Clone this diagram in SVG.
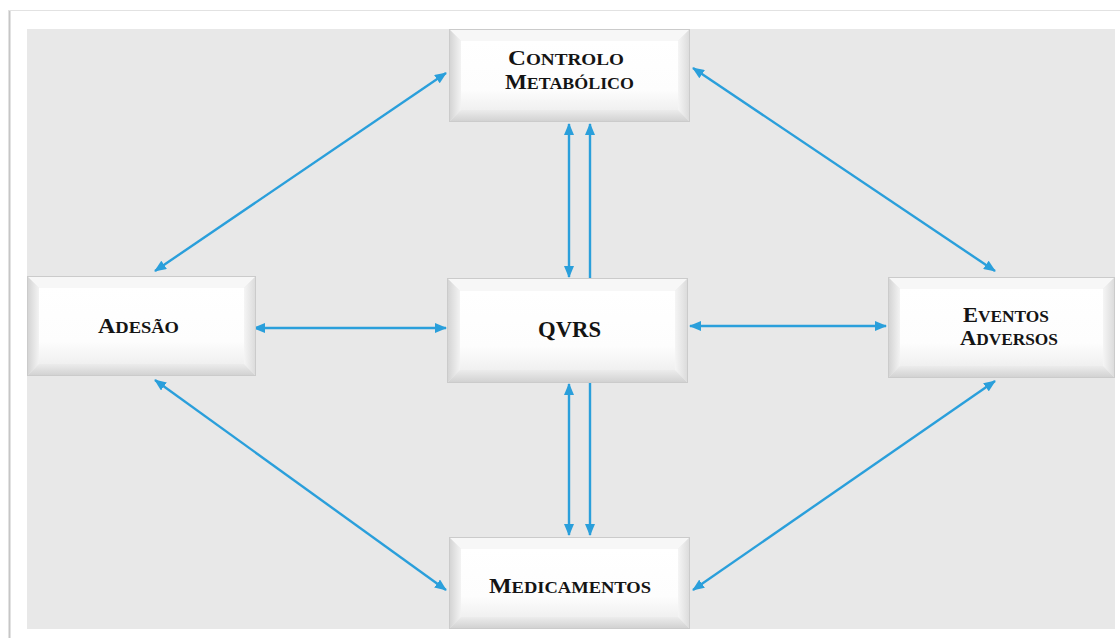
<svg xmlns="http://www.w3.org/2000/svg" width="1120" height="638" viewBox="0 0 1120 638">
<defs>
<style>
.bt{fill:#f7f7f7}.bb{fill:url(#gb)}.bl{fill:url(#gl)}.br{fill:url(#gr)}
.face{fill:url(#gf)}.ol{fill:none;stroke:#cbcbcb;stroke-width:1}
.lbl{font-family:"Liberation Serif","DejaVu Serif",serif;font-weight:bold;fill:#141414;text-anchor:middle;font-size:17px}
.big{font-size:22px}
.c{stroke:#2a9fdb;stroke-width:2.4;fill:none}
</style>
<linearGradient id="gf" x1="0" y1="0" x2="0" y2="1"><stop offset="0" stop-color="#ffffff"/><stop offset="0.7" stop-color="#fdfdfd"/><stop offset="1" stop-color="#f0f0f0"/></linearGradient>
<linearGradient id="gb" x1="0" y1="0" x2="0" y2="1"><stop offset="0" stop-color="#ececec"/><stop offset="1" stop-color="#d0d0d0"/></linearGradient>
<linearGradient id="gl" x1="0" y1="0" x2="1" y2="0"><stop offset="0" stop-color="#d2d2d2"/><stop offset="1" stop-color="#f3f3f3"/></linearGradient>
<linearGradient id="gr" x1="0" y1="0" x2="1" y2="0"><stop offset="0" stop-color="#f5f5f5"/><stop offset="1" stop-color="#dadada"/></linearGradient>
<marker id="ah" viewBox="0 0 12 10" refX="11" refY="5" markerWidth="12" markerHeight="10" markerUnits="userSpaceOnUse" orient="auto-start-reverse"><path d="M0,0 L12,5 L0,10 Z" fill="#2a9fdb"/></marker>
</defs>
<rect width="1120" height="638" fill="#ffffff"/>
<line x1="9.5" y1="10" x2="9.5" y2="638" stroke="#c6c6c6" stroke-width="2"/>
<line x1="9" y1="10.5" x2="1120" y2="10.5" stroke="#e2e2e2" stroke-width="1"/>
<rect x="27" y="29" width="1088" height="600" fill="#e8e8e8"/>

<g id="connectors">
<line class="c" x1="446" y1="73" x2="155" y2="271" marker-start="url(#ah)" marker-end="url(#ah)"/>
<line class="c" x1="693" y1="68" x2="995" y2="271" marker-start="url(#ah)" marker-end="url(#ah)"/>
<line class="c" x1="155" y1="380" x2="446" y2="590" marker-start="url(#ah)" marker-end="url(#ah)"/>
<line class="c" x1="995" y1="381" x2="693" y2="590" marker-start="url(#ah)" marker-end="url(#ah)"/>
<line class="c" x1="254" y1="328" x2="446" y2="328" marker-start="url(#ah)" marker-end="url(#ah)"/>
<line class="c" x1="690" y1="326" x2="886" y2="326" marker-start="url(#ah)" marker-end="url(#ah)"/>
<line class="c" x1="569" y1="124" x2="569" y2="277" marker-start="url(#ah)" marker-end="url(#ah)"/>
<line class="c" x1="590" y1="278" x2="590" y2="124" marker-end="url(#ah)"/>
<line class="c" x1="569" y1="384" x2="569" y2="535" marker-start="url(#ah)" marker-end="url(#ah)"/>
<line class="c" x1="590" y1="383" x2="590" y2="535" marker-end="url(#ah)"/>
</g>

<g id="controlo">
<rect class="face" x="461" y="41" width="217" height="69"/>
<polygon class="bt" points="449,29 690,29 678,41 461,41"/>
<polygon class="bb" points="449,122 690,122 678,110 461,110"/>
<polygon class="bl" points="449,29 461,41 461,110 449,122"/>
<polygon class="br" points="690,29 678,41 678,110 690,122"/>
<rect class="ol" x="449.5" y="29.5" width="240" height="92"/>
<text class="lbl" x="566" y="65" textLength="116" lengthAdjust="spacingAndGlyphs"><tspan class="big">C</tspan>ONTROLO</text>
<text class="lbl" x="569.5" y="89" textLength="129" lengthAdjust="spacingAndGlyphs"><tspan class="big">M</tspan>ETABÓLICO</text>
</g>

<g id="qvrs">
<rect class="face" x="460" y="291" width="215" height="79"/>
<polygon class="bt" points="447,278 688,278 675,291 460,291"/>
<polygon class="bb" points="447,383 688,383 675,370 460,370"/>
<polygon class="bl" points="447,278 460,291 460,370 447,383"/>
<polygon class="br" points="688,278 675,291 675,370 688,383"/>
<rect class="ol" x="447.5" y="278.5" width="240" height="104"/>
<text class="lbl" x="569.5" y="337" style="font-size:24px" textLength="63" lengthAdjust="spacingAndGlyphs">QVRS</text>
</g>

<g id="adesao">
<rect class="face" x="39" y="288" width="205" height="76"/>
<polygon class="bt" points="27,276 256,276 244,288 39,288"/>
<polygon class="bb" points="27,376 256,376 244,364 39,364"/>
<polygon class="bl" points="27,276 39,288 39,364 27,376"/>
<polygon class="br" points="256,276 244,288 244,364 256,376"/>
<rect class="ol" x="27.5" y="276.5" width="228" height="99"/>
<text class="lbl" x="138.5" y="333" textLength="81" lengthAdjust="spacingAndGlyphs"><tspan class="big">A</tspan>DESÃO</text>
</g>

<g id="eventos">
<rect class="face" x="900" y="289" width="203" height="77"/>
<polygon class="bt" points="888,277 1115,277 1103,289 900,289"/>
<polygon class="bb" points="888,378 1115,378 1103,366 900,366"/>
<polygon class="bl" points="888,277 900,289 900,366 888,378"/>
<polygon class="br" points="1115,277 1103,289 1103,366 1115,378"/>
<rect class="ol" x="888.5" y="277.5" width="226" height="100"/>
<text class="lbl" x="1006" y="322" textLength="86" lengthAdjust="spacingAndGlyphs"><tspan class="big">E</tspan>VENTOS</text>
<text class="lbl" x="1009" y="345" textLength="98" lengthAdjust="spacingAndGlyphs"><tspan class="big">A</tspan>DVERSOS</text>
</g>

<g id="medicamentos">
<rect class="face" x="461" y="549" width="217" height="68"/>
<polygon class="bt" points="449,537 690,537 678,549 461,549"/>
<polygon class="bb" points="449,629 690,629 678,617 461,617"/>
<polygon class="bl" points="449,537 461,549 461,617 449,629"/>
<polygon class="br" points="690,537 678,549 678,617 690,629"/>
<rect class="ol" x="449.5" y="537.5" width="240" height="91"/>
<text class="lbl" x="570" y="593" textLength="162" lengthAdjust="spacingAndGlyphs"><tspan class="big">M</tspan>EDICAMENTOS</text>
</g>
</svg>
